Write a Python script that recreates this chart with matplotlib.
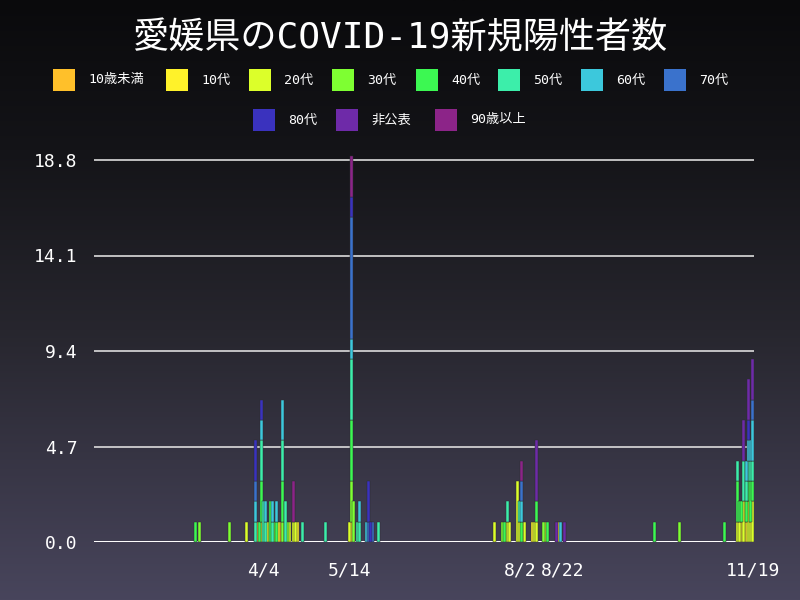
import numpy as np
import pandas as pd
import matplotlib
matplotlib.use("Agg")
import matplotlib.pyplot as plt
from matplotlib.colors import LinearSegmentedColormap
from matplotlib.patches import Rectangle

# ---------------- data ----------------
title = "愛媛県のCOVID-19新規陽性者数"
start_date = "2020-01-16"
end_date = "2020-11-19"

age_groups = ["10歳未満", "10代", "20代", "30代", "40代", "50代",
              "60代", "70代", "80代", "非公表", "90歳以上"]
group_colors = ["#FFC02A", "#FFF22A", "#DCFF2A", "#7EFF32", "#3CF852", "#3CEEAA",
                "#3CC8DC", "#3A72CC", "#3A32BE", "#6E2AA8", "#8C2488"]

# daily new cases per age group (month/day -> count)
under10 = {"4/1": 1, "4/12": 1}
teens = {"4/11": 1, "4/20": 1, "5/15": 1, "8/8": 1, "8/20": 1, "11/14": 1, "11/16": 1}
twenties = {"3/27": 1, "4/3": 1, "4/6": 1, "4/16": 1, "4/18": 1, "4/19": 1, "5/14": 1,
            "7/21": 1, "7/27": 1, "7/28": 1, "8/1": 3, "8/2": 1, "8/4": 1, "8/9": 1,
            "8/10": 1, "8/14": 1, "11/12": 1, "11/13": 1, "11/15": 2, "11/17": 2,
            "11/18": 1, "11/19": 2}
thirties = {"3/5": 1, "3/19": 1, "4/9": 1, "4/13": 1, "4/15": 1, "5/15": 2, "5/16": 2,
            "7/25": 1, "8/13": 1, "10/16": 1}
forties = {"3/3": 1, "4/2": 1, "4/3": 2, "4/7": 2, "4/10": 1, "4/13": 2, "5/15": 3,
           "7/26": 1, "8/3": 1, "8/10": 1, "8/15": 1, "10/4": 1, "11/6": 1, "11/12": 2,
           "11/13": 1, "11/14": 1, "11/16": 1, "11/17": 1, "11/18": 2, "11/19": 1}
fifties = {"3/31": 1, "4/3": 2, "4/4": 2, "4/5": 1, "4/8": 1, "4/13": 2, "4/14": 2,
           "4/22": 1, "5/3": 1, "5/15": 3, "5/18": 1, "5/19": 1, "5/28": 1, "7/27": 1,
           "8/2": 1, "11/12": 1, "11/15": 2, "11/16": 1, "11/17": 1, "11/18": 1, "11/19": 1}
sixties = {"3/31": 1, "4/3": 1, "4/5": 1, "4/8": 1, "4/10": 1, "4/13": 2, "5/15": 1,
           "5/19": 1, "5/22": 1, "8/3": 1, "8/21": 1, "11/16": 1, "11/17": 1, "11/18": 1,
           "11/19": 2}
seventies = {"3/31": 1, "5/15": 6, "5/23": 1, "5/25": 1, "8/3": 1, "11/19": 1}
eighties = {"3/31": 2, "4/3": 1, "5/15": 1, "5/23": 2, "5/24": 1, "11/17": 1}
undisclosed = {"8/10": 3, "8/19": 1, "8/23": 1, "11/15": 2, "11/17": 2, "11/19": 2}
over90 = {"4/18": 2, "5/15": 2, "8/3": 1}

series = [under10, teens, twenties, thirties, forties, fifties,
          sixties, seventies, eighties, undisclosed, over90]

tick_dates = ["4/4", "5/14", "8/2", "8/22", "11/19"]
y_ticks = [0.0, 4.7, 9.4, 14.1, 18.8]

# ---------------- helpers ----------------
days = pd.date_range(start_date, end_date)
n_days = len(days)


def day_index(md):
    m, d = md.split("/")
    return (pd.Timestamp(2020, int(m), int(d)) - days[0]).days


W, H = 800, 600
fig = plt.figure(figsize=(8, 6), dpi=100)

# background gradient
bg = fig.add_axes([0, 0, 1, 1], zorder=-10)
cmap = LinearSegmentedColormap.from_list(
    "bg", [(0.0, "#0a0a0c"), (0.25, "#141418"), (0.55, "#27262e"), (1.0, "#48455c")])
grad = np.linspace(0, 1, 256).reshape(-1, 1)
bg.imshow(grad, aspect="auto", cmap=cmap, extent=[0, 1, 0, 1], origin="upper")
bg.set_axis_off()

mixed = ["DejaVu Sans Mono", "Noto Sans CJK JP"]
fig.text(0.5, 1 - 38 / H, title, ha="center", va="center", fontsize=26,
         color="white", family=mixed)

# legend (manual, centered rows)
row1_x = [53, 166, 249, 332, 416, 498, 581, 664]
row2_x = [253, 336, 435]
positions = [(x, 80) for x in row1_x] + [(x, 120) for x in row2_x]
for (px, py), label, col in zip(positions, age_groups, group_colors):
    fig.add_artist(Rectangle((px / W, 1 - (py + 10.5) / H), 22 / W, 21 / H,
                             transform=fig.transFigure, facecolor=col, edgecolor="none"))
    fig.text((px + 35) / W, 1 - py / H, label, ha="left", va="center",
             fontsize=9.5, color="white", family=mixed)

# main axes
unit = 382 / 18.8
ax = fig.add_axes([94 / W, 58 / H, 659.6 / W, 392 / H])
ax.set_facecolor("none")
ax.set_xlim(-0.5, n_days - 0.5)
ax.set_ylim(0, 392 / unit)

bottom = np.zeros(n_days)
for label, data, col in zip(age_groups, series, group_colors):
    vals = np.zeros(n_days)
    for md, v in data.items():
        vals[day_index(md)] += v
    idx = np.nonzero(vals)[0]
    ax.bar(idx, vals[idx], bottom=bottom[idx], width=1.4, color=col,
           edgecolor="#2c2b33", linewidth=0.35, zorder=3)
    bottom += vals

ax.set_yticks(y_ticks)
ax.set_yticklabels([f"{v:.1f}" for v in y_ticks])
ax.set_xticks([day_index(d) for d in tick_dates])
ax.set_xticklabels(tick_dates)
ax.yaxis.grid(True, color="#dcdcdc", linewidth=1.2, zorder=1)
ax.axhline(0, color="white", linewidth=1.4, zorder=2)
for s in ax.spines.values():
    s.set_visible(False)
ax.tick_params(axis="both", length=0, colors="white", labelsize=13)
ax.tick_params(axis="y", pad=12)
ax.tick_params(axis="x", pad=14)
for t in ax.get_xticklabels() + ax.get_yticklabels():
    t.set_family("DejaVu Sans Mono")

fig.savefig("out.png", dpi=100)
